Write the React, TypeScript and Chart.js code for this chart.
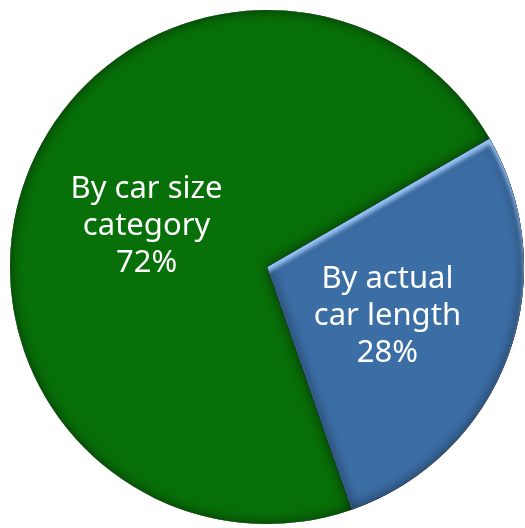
import React, { useEffect, useRef } from "react";
import { Chart, registerables } from "chart.js";

Chart.register(...registerables);

const categories: string[][] = [
  ["By actual", "car length"],
  ["By car size", "category"],
];
const values: number[] = [28, 72];
const colors: string[] = ["#3c6ea6", "#087008"];

const FONT = '31px "Noto Sans"';

const effectsPlugin = {
  id: "effects",
  afterDatasetsDraw(chart: any) {
    const ctx: CanvasRenderingContext2D = chart.ctx;
    const meta = chart.getDatasetMeta(0);
    meta.data.forEach((arc: any, i: number) => {
      const { x, y, startAngle, endAngle, outerRadius } = arc.getProps(
        ["x", "y", "startAngle", "endAngle", "outerRadius"],
        true
      );
      const path = () => {
        ctx.beginPath();
        ctx.moveTo(x, y);
        ctx.arc(x, y, outerRadius, startAngle, endAngle);
        ctx.closePath();
      };
      const outside = () => {
        ctx.beginPath();
        ctx.rect(-5000, -5000, 10000, 10000);
        ctx.moveTo(x, y);
        ctx.arc(x, y, outerRadius, startAngle, endAngle);
        ctx.closePath();
      };
      // inner dark shadow
      ctx.save();
      path();
      ctx.clip();
      outside();
      ctx.shadowColor = "rgba(0,0,0,0.55)";
      ctx.shadowBlur = 14;
      ctx.fillStyle = "#000";
      ctx.fill("evenodd");
      ctx.restore();
      // highlight
      if (i === 0) {
        ctx.save();
        path();
        ctx.clip();
        outside();
        ctx.shadowColor = "rgba(150,195,245,1)";
        ctx.shadowBlur = 4;
        ctx.shadowOffsetX = 0;
        ctx.shadowOffsetY = 6;
        ctx.fillStyle = "#000";
        ctx.fill("evenodd");
        ctx.restore();
      }
    });
    // labels
    const total = values.reduce((a, b) => a + b, 0);
    ctx.save();
    ctx.font = FONT;
    ctx.fillStyle = "#ffffff";
    ctx.textAlign = "center";
    ctx.textBaseline = "middle";
    meta.data.forEach((arc: any, i: number) => {
      const { x, y, startAngle, endAngle, outerRadius } = arc.getProps(
        ["x", "y", "startAngle", "endAngle", "outerRadius"],
        true
      );
      const mid = (startAngle + endAngle) / 2;
      const cx = x + Math.cos(mid) * outerRadius * 0.5;
      const cy = y + Math.sin(mid) * outerRadius * 0.5 + 4;
      const lines = [...categories[i], Math.round((values[i] / total) * 100) + "%"];
      const lh = 37;
      lines.forEach((l, k) => {
        ctx.fillText(l, cx, cy + (k - (lines.length - 1) / 2) * lh);
      });
    });
    ctx.restore();
  },
};

export default function App() {
  const ref = useRef<HTMLCanvasElement | null>(null);
  useEffect(() => {
    document.body.style.margin = "0";
    document.body.style.overflow = "hidden";
    if (!ref.current) return;
    const chart = new Chart(ref.current, {
      type: "pie",
      data: {
        labels: categories.map((c) => c.join(" ")),
        datasets: [
          {
            data: values,
            backgroundColor: colors,
            borderWidth: 0,
          },
        ],
      },
      options: {
        animation: false,
        responsive: false,
        rotation: 60,
        layout: { padding: 10 },
        plugins: {
          legend: { display: false },
          tooltip: { enabled: false },
        },
      },
      plugins: [effectsPlugin],
    });
    return () => chart.destroy();
  }, []);
  return (
    <div style={{ position: "absolute", left: 0, top: 0, width: 525, height: 528, overflow: "hidden", background: "#fff" }}>
      <canvas ref={ref} width={534} height={534} style={{ display: "block" }} />
    </div>
  );
}
